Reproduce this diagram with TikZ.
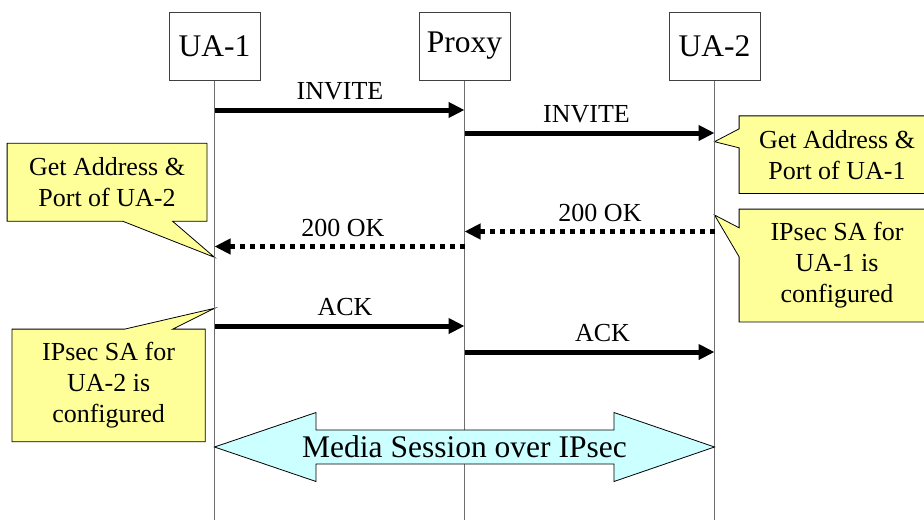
\documentclass[tikz,border=0pt]{standalone}
\usepackage{fontspec}
\setmainfont{Liberation Serif}
\usetikzlibrary{arrows.meta}
\usetikzlibrary{backgrounds}
\usetikzlibrary{calc}
\usetikzlibrary{positioning}
\definecolor{noteyellow}{RGB}{255,255,153}
\definecolor{mediacyan}{RGB}{204,255,255}
\definecolor{lifegray}{RGB}{110,110,110}
\tikzset{
    party/.style = {draw=black!75,line width=1pt,fill=white,minimum width=91pt,minimum height=68pt,inner sep=0pt,font=\rmfamily\fontsize{31.5}{38}\selectfont},
    lifeline/.style = {draw=lifegray,line width=1.4pt},
    msg/.style = {line width=5pt,-{Triangle[length=16pt,width=15pt]}},
    reply/.style = {msg,dash pattern=on 5pt off 5pt},
    msgtext/.style = {anchor=base,yshift=10.5pt,inner sep=0pt,font=\rmfamily\fontsize{26}{31}\selectfont}
}
\tikzset{
    note/.style = {align=center,inner sep=0pt,font=\rmfamily\fontsize{26}{31}\selectfont},
    notebox/.style = {draw=black,line width=0.8pt,fill=noteyellow},
    media/.style = {draw=black,line width=0.8pt,fill=mediacyan},
    mediatext/.style = {anchor=base,inner sep=0pt,font=\rmfamily\fontsize{31.5}{38}\selectfont}
}
\begin{document}
\begin{tikzpicture}[x=1pt,y=-1pt]
        \newcommand*\lanesep{250}
        \useasboundingbox (0,0) rectangle (924,520);
        % Parties
        \path (214.5,46) node[party] (ua1) {UA-1}
            to +(\lanesep,0) node[party] (proxy) {Proxy}
            to +(2*\lanesep,0) node[party] (ua2) {UA-2}
        ;
        % Lifelines
        \foreach \p in {ua1,proxy,ua2}
            \draw[lifeline] (\p.south) to (\p |- 0,520);
        % Requests
        \draw[msg] (ua1 |- 0,110) to node[msgtext,xshift=0.5pt] {INVITE} (proxy |- 0,110);
        \draw[msg] (proxy |- 0,133) to node[msgtext,xshift=-3pt] {INVITE} (ua2 |- 0,133);
        % Responses
        \draw[reply] (ua2 |- 0,231.5) to node[msgtext,xshift=10.5pt] {200 OK} (proxy |- 0,231.5);
        \draw[reply] (proxy |- 0,246.5) to node[msgtext,xshift=3.5pt] {200 OK} (ua1 |- 0,246.5);
        % Acknowledgements
        \draw[msg] (ua1 |- 0,326) to node[msgtext,xshift=5.5pt] {ACK} (proxy |- 0,326);
        \draw[msg] (proxy |- 0,352) to node[msgtext,xshift=13pt] {ACK} (ua2 |- 0,352);
        % Notes
        \node[note,minimum width=199.4pt,minimum height=77.7pt] (addr2) at (107,182.2) {Get Address \&\\Port of UA-2};
        \node[note,minimum width=195.4pt,minimum height=77.3pt] (addr1) at (837,154.7) {Get Address \&\\Port of UA-1};
        \node[note,minimum width=195.4pt,minimum height=112.4pt] (sa1) at (837,265.5) {IPsec SA for\\UA-1 is\\configured};
        \node[note,minimum width=192.7pt,minimum height=112.2pt] (sa2) at (108.6,385.4) {IPsec SA for\\UA-2 is\\configured};
        \coordinate (addr2tip) at (ua1 |- 0,257.3);
        \coordinate (addr1tip) at (ua2 |- 0,141.7);
        \coordinate (sa1tip) at (ua2 |- 0,215);
        \coordinate (sa2tip) at (ua1 |- 0,308.3);
        \begin{pgfonlayer}{background}
            \clip (0,0) rectangle (924,520);
            \draw[notebox] (addr2.north west) -- (addr2.north east) -- (addr2.south east)
                -- ($(addr2.south west)+(165.5,0)$) -- (addr2tip) -- ($(addr2.south west)+(115.7,0)$)
                -- (addr2.south west) -- cycle;
            \draw[notebox] (addr1.north west) -- (addr1.north east) -- (addr1.south east) -- (addr1.south west)
                -- ($(addr1.north west)+(0,32)$) -- (addr1tip) -- ($(addr1.north west)+(0,13)$) -- cycle;
            \draw[notebox] (sa1.north west) -- (sa1.north east) -- (sa1.south east) -- (sa1.south west)
                -- ($(sa1.north west)+(0,47.7)$) -- (sa1tip) -- ($(sa1.north west)+(0,18.7)$) -- cycle;
            \draw[notebox] (sa2.north west) -- ($(sa2.north west)+(112.7,0)$) -- (sa2tip)
                -- ($(sa2.north west)+(160.7,0)$) -- (sa2.north east) -- (sa2.south east)
                -- (sa2.south west) -- cycle;
        \end{pgfonlayer}
        % Media session
        \coordinate (mediaL) at (ua1 |- 0,447);
        \coordinate (mediaR) at (ua2 |- 0,447);
        \draw[media] (mediaL) -- ($(mediaL)+(101.5,-34.5)$) -- ($(mediaL)+(101.5,-17)$)
            -- ($(mediaR)+(-100.5,-17)$) -- ($(mediaR)+(-100.5,-34.5)$) -- (mediaR)
            -- ($(mediaR)+(-100.5,34.5)$) -- ($(mediaR)+(-100.5,17)$)
            -- ($(mediaL)+(101.5,17)$) -- ($(mediaL)+(101.5,34.5)$) -- cycle;
        \node[mediatext] (session) at ($(mediaL)!0.5!(mediaR)+(0,10.3)$) {Media Session over IPsec};
    \end{tikzpicture}
\end{document}
